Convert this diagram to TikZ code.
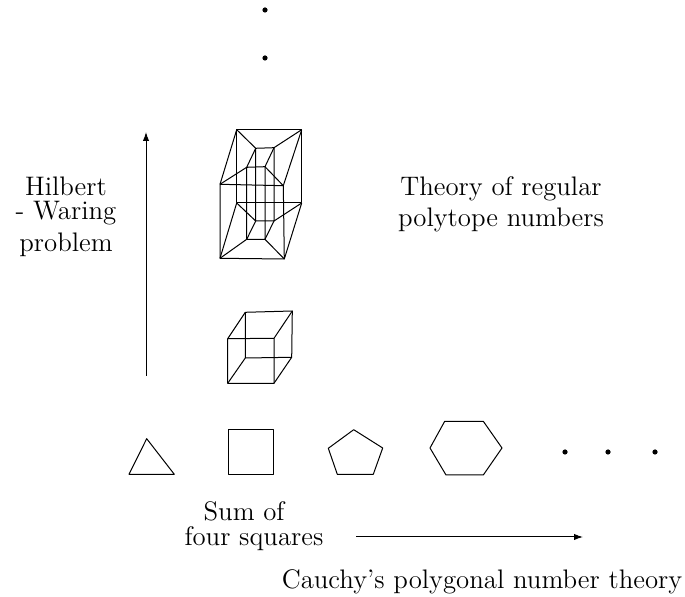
\documentclass[tikz,border=0pt]{standalone}
\usetikzlibrary{arrows.meta}
\begin{document}
\begin{tikzpicture}[
    x=0.5pt, y=-0.5pt,
    edge/.style={line width=0.5pt, line join=round},
    arrow/.style={-{Latex[length=4.5pt,width=3.2pt]}, line width=0.5pt},
    dotmark/.style={circle, fill=black, inner sep=0pt, minimum size=2.6pt},
    label/.style={font=\fontsize{13.4}{15}\selectfont, align=center, inner sep=0pt}
]
\useasboundingbox (0,0) rectangle (685,597);

% Dots
\node[dotmark] (top1) at (265,10) {};
\node[dotmark] (top2) at (265,58) {};
\node[dotmark] (right1) at (565,452) {};
\node[dotmark] (right2) at (608,452) {};
\node[dotmark] (right3) at (655,452) {};

% Polygons
\draw[edge] (129,474.3) -- (146.7,438.7) -- (174.3,474.3) -- cycle;
\draw[edge] (228.7,429.7) -- (273.3,429.7) -- (273.3,475) -- (228.7,475) -- cycle;
\draw[edge] (353.7,429.7) -- (382.7,448) -- (373.3,474.3) -- (337.3,474.3) -- (328.3,448.3) -- cycle;
\draw[edge] (444.7,421.3) -- (483.3,421.3) -- (502,448) -- (483.3,475) -- (446,475) -- (430,448) -- cycle;

% Cube
\coordinate (ca1) at (245.3,312.3);
\coordinate (ca2) at (292.3,311);
\coordinate (ca3) at (291.7,357.3);
\coordinate (ca4) at (245.3,358);
\coordinate (cb1) at (227.7,338.7);
\coordinate (cb2) at (274,338.3);
\coordinate (cb3) at (274,383.3);
\coordinate (cb4) at (227.7,383.3);
\draw[edge] (ca1) -- (ca2) -- (ca3) -- (ca4) -- cycle;
\draw[edge] (cb1) -- (cb2) -- (cb3) -- (cb4) -- cycle;
\foreach \i in {1,...,4} \draw[edge] (ca\i) -- (cb\i);

% Tesseract
\coordinate (oa1) at (236.7,129.7);
\coordinate (oa2) at (301.7,129.7);
\coordinate (oa3) at (301.7,203);
\coordinate (oa4) at (236.7,203);
\coordinate (ob1) at (220,184.3);
\coordinate (ob2) at (283.3,185.7);
\coordinate (ob3) at (284.3,259);
\coordinate (ob4) at (220,258.3);
\coordinate (ia1) at (255.7,148.3);
\coordinate (ia2) at (274,147.7);
\coordinate (ia3) at (274,221);
\coordinate (ia4) at (255.7,221);
\coordinate (ib1) at (246.7,167.3);
\coordinate (ib2) at (265,166.7);
\coordinate (ib3) at (265,239.3);
\coordinate (ib4) at (246.7,239.3);
\foreach \f in {oa,ob,ia,ib}
    \draw[edge] (\f1) -- (\f2) -- (\f3) -- (\f4) -- cycle;
\foreach \i in {1,...,4} {
    \draw[edge] (oa\i) -- (ob\i);
    \draw[edge] (ia\i) -- (ib\i);
    \draw[edge] (oa\i) -- (ia\i);
    \draw[edge] (ob\i) -- (ib\i);
}

% Arrows
\coordinate (vstart) at (146,376);
\coordinate (vend) at (146,132);
\coordinate (hstart) at (356,537);
\coordinate (hend) at (583,537);
\draw[arrow] (vstart) -- (vend);
\draw[arrow] (hstart) -- (hend);

% Labels
\node[label] (hilbert) at (66,216.5) {Hilbert\\[-3pt]- Waring\\[1pt]problem};
\node[label] (theory) at (501,204) {Theory of regular\\[0.5pt]polytope numbers};
\node[label, align=left] (sum) at (254,526) {\hspace*{9.5pt}Sum of\\[-2.5pt]four squares};
\node[label] (cauchy) at (482,582) {Cauchy's polygonal number theory};
\end{tikzpicture}
\end{document}
